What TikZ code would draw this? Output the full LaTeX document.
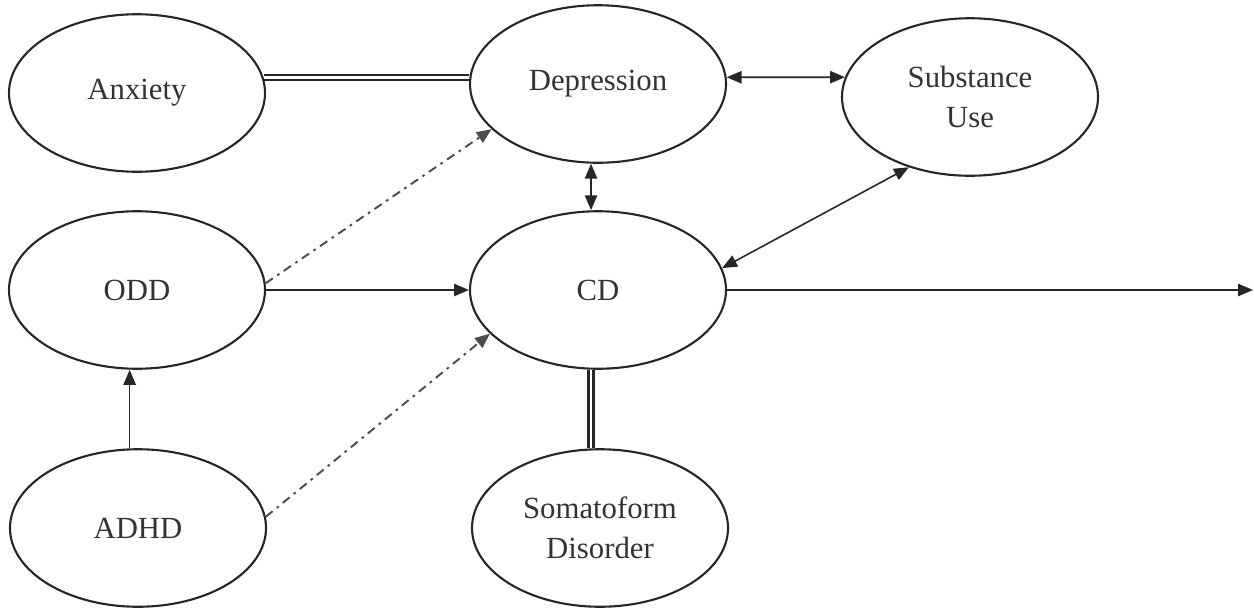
\documentclass[tikz,border=0pt]{standalone}
\usepackage{fontspec}
\setmainfont{Liberation Serif}
\usepackage{tikz}
\usetikzlibrary{shapes.geometric,arrows.meta}

\begin{document}
\begin{tikzpicture}[x=0.2mm,y=-0.2mm,
    disorder/.style={ellipse, draw=black!85, line width=1.2pt, minimum width=51.2mm, minimum height=31.5mm, inner sep=0pt, align=center, text=black!80, font=\fontsize{17.5}{22.5}\selectfont},
    link/.style={draw=black!85, line width=0.9pt, {Triangle[length=8.5pt,width=7pt]}-{Triangle[length=8.5pt,width=7pt]}},
    leads/.style={draw=black!85, line width=0.9pt, -{Triangle[length=8.5pt,width=7pt]}},
    maybe/.style={leads, line width=1.1pt, draw=black!70, dash pattern=on 5pt off 3pt on 1.5pt off 3pt},
    tied/.style={draw=black!85, double, double distance=1.5pt, line width=1.3pt}]
                        \useasboundingbox (0,0) rectangle (1254,611);
                        % Nodes
                        \node[disorder] (Anxiety) at (137,93) {Anxiety};
                        \node[disorder] (Depression) at (598,84) {Depression};
                        \node[disorder] (Substance) at (970,97) {Substance\\Use};
                        \node[disorder] (ODD) at (137,290) {ODD};
                        \node[disorder] (CD) at (598,290) {CD};
                        \node[disorder] (ADHD) at (138,528) {ADHD};
                        \node[disorder] (Somato) at (600,528) {Somatoform\\Disorder};
                        \coordinate (out) at (1253,290);

                        % Edges
                        \draw[tied] (Anxiety.7) -- (Anxiety.7 -| Depression.west);
                        \draw[tied] (CD.265) -- (CD.265 |- Somato.north);

                        \draw[link] (Depression.3) -- (Substance.171);
                        \draw[link] (Depression.265) -- (Depression.265 |- CD.north);
                        \draw[link] (CD.10) -- (Substance.229);

                        \draw[leads] (ODD) -- (CD);
                        \draw[leads] (ADHD.96) -- (ADHD.96 |- ODD.south);
                        \draw[leads] (CD) -- (out);

                        \draw[maybe] (ODD.3) -- (Depression.203);
                        \draw[maybe] (ADHD.5) -- (CD.202);
                    \end{tikzpicture}
\end{document}
